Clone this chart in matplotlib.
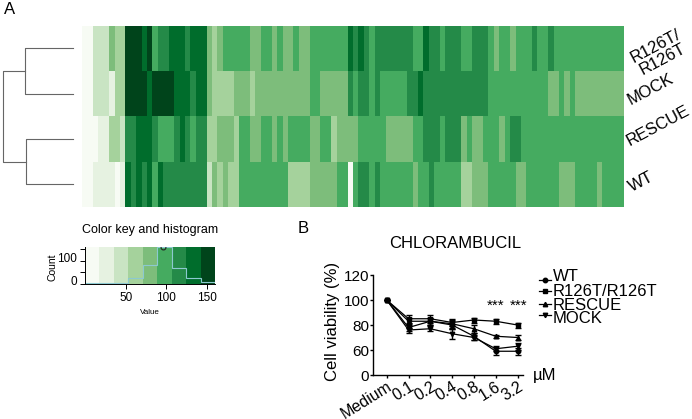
import matplotlib
matplotlib.use("Agg")
import matplotlib.pyplot as plt
import numpy as np
from matplotlib.colors import ListedColormap
from matplotlib.transforms import ScaledTranslation

plt.rcParams['font.family'] = ['Liberation Sans', 'DejaVu Sans']

W, H = 692, 419

def axbox(x0, y0, x1, y1):
    return [x0 / W, 1 - y1 / H, (x1 - x0) / W, (y1 - y0) / H]

# ---------- data ----------
key_colors = ['#f7fbf4', '#e6f2e1', '#c9e4c3', '#a5d29c', '#7dbd7b',
              '#45ab60', '#248a48', '#006d2c', '#00441b']
row_labels = ['R126T/\nR126T', 'MOCK', 'RESCUE', 'WT']

row_r126t = [0,0,2,2,2,4,3,3,8,8,
             8,7,8,5,6,6,7,7,7,6,
             7,7,7,4,3,4,5,5,5,5,
             5,4,4,5,5,4,5,4,4,5,
             4,4,5,5,5,5,5,5,5,7,
             6,7,6,5,6,6,6,6,6,6,
             6,5,5,7,6,6,5,6,6,6,
             5,5,6,6,6,5,4,5,5,4,
             5,5,5,6,5,5,6,5,5,5,
             5,5,5,5,5,5,5,5,5,5]
row_mock = [0,0,2,2,2,1,3,3,8,8,
            8,8,7,8,8,8,8,7,7,7,
            6,7,7,4,3,3,3,3,4,4,
            4,3,4,4,4,4,4,4,4,4,
            4,4,5,5,4,4,4,4,4,6,
            5,6,6,5,6,5,5,5,5,5,
            6,6,7,6,6,6,6,6,6,6,
            6,6,6,6,6,5,5,5,5,5,
            5,5,5,5,5,5,4,4,5,4,
            5,4,4,4,4,4,4,4,4,4]
row_rescue = [0,0,0,1,1,3,3,2,6,6,
              7,7,7,6,5,5,5,6,7,6,
              5,6,6,3,3,4,4,4,3,5,
              5,4,4,5,5,4,5,4,5,5,
              5,5,4,4,5,5,3,4,4,4,
              4,5,5,5,5,5,4,4,4,4,
              4,5,5,6,6,6,5,6,6,6,
              4,5,4,4,5,5,5,4,5,6,
              6,5,5,5,5,5,5,5,5,5,
              5,5,5,5,5,5,5,5,5,5]
row_wt = [0,0,1,1,1,1,0,1,7,6,
          7,6,7,5,7,6,6,6,6,6,
          6,6,6,2,4,3,4,3,3,5,
          5,5,5,5,5,5,5,5,3,3,
          3,3,4,4,4,4,4,5,5,0,
          5,6,6,5,6,5,5,5,5,5,
          5,4,5,5,6,5,5,5,5,5,
          3,3,4,4,4,5,5,5,5,5,
          4,4,5,5,5,5,5,5,4,4,
          4,5,5,5,5,4,5,5,5,5]
heat_rows = [row_r126t, row_mock, row_rescue, row_wt]

hist_counts = [5, 5, 5, 25, 82, 158, 70, 25, 10]
key_max = 160
key_ticks = [50, 100, 150]
count_ticks = [0, 50, 100, 150]
count_labels = ['0', '', '100', '']

doses = ['Medium', '0.1', '0.2', '0.4', '0.8', '1.6', '3.2']
wt = [100, 78, 83, 80, 71, 59, 59]
r126t = [100, 85, 85, 82, 84, 83, 80]
rescue = [100, 83, 83, 81, 77, 71, 70]
mock = [100, 76, 77, 73, 70, 61, 63]
err_wt = [0, 3, 3, 3, 3, 3, 3]
err_r126t = [0, 3, 3, 3, 2, 2, 2]
err_rescue = [0, 3, 3, 3, 3, 1, 2]
err_mock = [0, 2, 2, 4, 2, 2, 3]
series = [('WT', wt, err_wt, 'o'), ('R126T/R126T', r126t, err_r126t, 's'),
          ('RESCUE', rescue, err_rescue, '^'), ('MOCK', mock, err_mock, 'v')]
y_ticks = [40, 60, 80, 100, 120]
y_tick_labels = ['0', '60', '80', '100', '120']

fig = plt.figure(figsize=(W / 100, H / 100), dpi=100)

# ---------- overlay ----------
ov = fig.add_axes([0, 0, 1, 1])
ov.set_xlim(0, W); ov.set_ylim(H, 0); ov.axis('off')
ov.set_zorder(5)

# ---------- heatmap ----------
ax = fig.add_axes(axbox(81.5, 26, 623, 206.7))
cmap = ListedColormap(key_colors)
ax.imshow(np.array(heat_rows), cmap=cmap, vmin=-0.5, vmax=8.5, aspect='auto', interpolation='nearest')
ax.axis('off')

# row labels
lab_pos = [(659, 53), (651, 89), (658, 126), (641, 182)]
for lab, (x, y) in zip(row_labels, lab_pos):
    ov.text(x, y, lab, rotation=28, ha='center', va='center', fontsize=12,
            rotation_mode='anchor', linespacing=1.0, multialignment='center')

# dendrogram
den = '#666666'
for xs, ys in [((72.7, 25, 25, 72.7), (48, 48, 93.7, 93.7)),
               ((72.7, 26.3, 26.3, 72.7), (138.7, 138.7, 184, 184)),
               ((25, 3.3, 3.3, 26.3), (70.7, 70.7, 161.7, 161.7))]:
    ov.plot(xs, ys, color=den, lw=0.8)

ov.text(10, 10, 'A', fontsize=12, ha='center', va='center')
ov.text(303, 228, 'B', fontsize=12, ha='center', va='center')

# ---------- color key ----------
k = fig.add_axes(axbox(85, 247, 215, 284))
edges = np.linspace(0, key_max, len(key_colors) + 1)
for i, col in enumerate(key_colors):
    k.axvspan(edges[i], edges[i + 1], color=col, lw=0)
k.stairs(hist_counts, edges, color='#8cc9d0', lw=0.8)
k.plot([96], [key_max], marker='o', ms=3.5, mfc='none', mec='#222222', mew=0.8)
k.set_xlim(0, key_max); k.set_ylim(0, key_max)
k.set_xticks(key_ticks); k.set_yticks(count_ticks); k.set_yticklabels(count_labels)
k.tick_params(labelsize=8.5, length=3.6, width=0.7, pad=2)
up = ScaledTranslation(0, 3.5 / 100, fig.dpi_scale_trans)
for lab in k.get_yticklabels():
    lab.set_transform(lab.get_transform() + up)
for s in ('top', 'right'):
    k.spines[s].set_visible(False)
for s in ('left', 'bottom'):
    k.spines[s].set_linewidth(0.7)
ov.text(150, 230, 'Color key and histogram', fontsize=9, ha='center', va='center')
ov.text(150, 312, 'Value', fontsize=5.8, ha='center', va='center')
ov.text(52.7, 267, 'Count', fontsize=7.5, rotation=90, ha='center', va='center')

# ---------- line chart ----------
c = fig.add_axes(axbox(373.3, 275, 523, 375))
x = np.arange(len(doses))
for name, vals, err, m in series:
    c.errorbar(x, vals, yerr=err, color='black', lw=0.9, marker=m, ms=3.2,
               capsize=2.5, elinewidth=1.0, capthick=1.0)
c.set_xlim(-0.615, 6.25); c.set_ylim(40, 120)
c.set_xticks(x); c.set_xticklabels(doses, rotation=32, ha='right', va='top', rotation_mode='anchor', fontsize=11.5)
shift = ScaledTranslation(10 / 100, 3 / 100, fig.dpi_scale_trans)
for lab in c.get_xticklabels():
    lab.set_transform(lab.get_transform() + shift)
c.set_yticks(y_ticks); c.set_yticklabels(y_tick_labels, fontsize=11)
c.tick_params(length=2.4, width=1.0, pad=0.5)
for s in ('top', 'right'):
    c.spines[s].set_visible(False)
for s in ('left', 'bottom'):
    c.spines[s].set_linewidth(1.0)
ov.text(333, 321, 'Cell viability (%)', fontsize=12, rotation=90, ha='center', va='center')
c.text(5, 95, '***', fontsize=11, ha='center', va='center')
c.text(6.05, 95, '***', fontsize=11, ha='center', va='center')

ov.text(455.5, 243, 'CHLORAMBUCIL', fontsize=12, ha='center', va='center')
ov.text(533, 375, 'µM', fontsize=12, ha='left', va='center')
leg_marker_y = [280, 291, 304, 315]
leg_text_y = [276, 291, 305, 318]
for (name, _, _, m), ym, yt in zip(series, leg_marker_y, leg_text_y):
    ov.plot([539, 551], [ym, ym], color='black', lw=0.9)
    ov.plot([545], [ym], marker=m, color='black', ms=3.2)
    ov.text(553, yt, name, fontsize=12, ha='left', va='center')
ov.set_xlim(0, W); ov.set_ylim(H, 0)

fig.savefig('out.png', dpi=100)
